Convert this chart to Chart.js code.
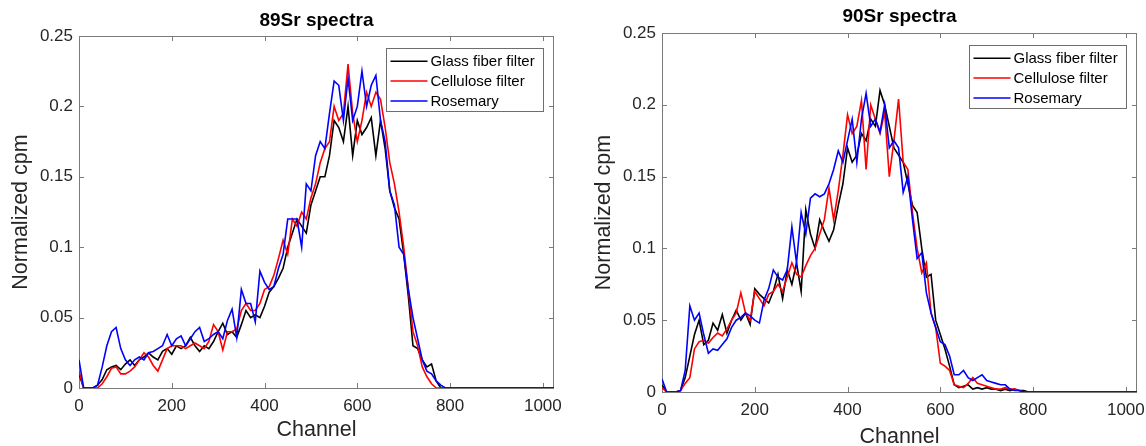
<!DOCTYPE html>
<html>
<head>
<meta charset="utf-8">
<script src="https://cdn.jsdelivr.net/npm/chart.js@4/dist/chart.umd.min.js"></script>
<style>
  html, body { margin: 0; padding: 0; background: #fff; }
  #wrap { position: relative; width: 1146px; height: 446px; overflow: hidden; }
  canvas { position: absolute; top: 0; }
</style>
</head>
<body>
<div id="wrap">
  <canvas id="sr89" width="573" height="446" style="left:0"></canvas>
  <canvas id="sr90" width="573" height="446" style="left:573px"></canvas>
</div>
<script>
// channel grid (every 10 channels up to 800, then the end of the 1024-channel range)
const CHANNELS = [
  0, 10, 20, 30, 40, 50, 60, 70, 80, 90,
  100, 110, 120, 130, 140, 150, 160, 170, 180, 190,
  200, 210, 220, 230, 240, 250, 260, 270, 280, 290,
  300, 310, 320, 330, 340, 350, 360, 370, 380, 390,
  400, 410, 420, 430, 440, 450, 460, 470, 480, 490,
  500, 510, 520, 530, 540, 550, 560, 570, 580, 590,
  600, 610, 620, 630, 640, 650, 660, 670, 680, 690,
  700, 710, 720, 730, 740, 750, 760, 770, 780, 790,
  800, 1024
];

const SERIES_NAMES = ['Glass fiber filter', 'Cellulose filter', 'Rosemary'];

// 89Sr spectra
const SR89_GLASS = [
  0.010, 0, 0, 0, 0.002, 0.006, 0.013, 0.015, 0.016, 0.013,
  0.017, 0.020, 0.016, 0.020, 0.022, 0.025, 0.022, 0.020, 0.026, 0.028,
  0.024, 0.030, 0.028, 0.030, 0.036, 0.030, 0.026, 0.030, 0.028, 0.033,
  0.040, 0.046, 0.038, 0.040, 0.036, 0.045, 0.055, 0.050, 0.052, 0.050,
  0.058, 0.068, 0.072, 0.078, 0.085, 0.100, 0.110, 0.120, 0.115, 0.110,
  0.130, 0.140, 0.150, 0.150, 0.165, 0.190, 0.185, 0.175, 0.200, 0.165,
  0.190, 0.180, 0.185, 0.192, 0.165, 0.190, 0.170, 0.140, 0.128, 0.120,
  0.095, 0.065, 0.030, 0.028, 0.020, 0.015, 0.017, 0.005, 0, 0,
  0, 0
];
const SR89_CELL = [
  0.012, 0, 0, 0, 0, 0.003, 0.008, 0.014, 0.015, 0.010,
  0.010, 0.012, 0.015, 0.020, 0.025, 0.022, 0.016, 0.012, 0.020, 0.028,
  0.030, 0.030, 0.030, 0.028, 0.030, 0.032, 0.030, 0.028, 0.033, 0.045,
  0.040, 0.027, 0.040, 0.040, 0.042, 0.055, 0.060, 0.055, 0.055, 0.060,
  0.070, 0.072, 0.080, 0.092, 0.105, 0.095, 0.120, 0.115, 0.125, 0.120,
  0.135, 0.145, 0.160, 0.170, 0.175, 0.200, 0.190, 0.195, 0.230, 0.195,
  0.175, 0.190, 0.210, 0.200, 0.210, 0.205, 0.185, 0.160, 0.145, 0.125,
  0.100, 0.070, 0.040, 0.030, 0.015, 0.008, 0.003, 0, 0, 0,
  0, 0
];
const SR89_ROSE = [
  0.020, 0, 0, 0, 0.002, 0.015, 0.030, 0.040, 0.043, 0.028,
  0.020, 0.016, 0.020, 0.022, 0.020, 0.025, 0.026, 0.028, 0.030, 0.038,
  0.030, 0.035, 0.037, 0.030, 0.035, 0.040, 0.043, 0.033, 0.035, 0.038,
  0.040, 0.035, 0.048, 0.056, 0.036, 0.070, 0.060, 0.060, 0.047, 0.083,
  0.075, 0.070, 0.072, 0.085, 0.095, 0.120, 0.120, 0.120, 0.100, 0.145,
  0.140, 0.165, 0.175, 0.170, 0.195, 0.218, 0.215, 0.190, 0.220, 0.190,
  0.200, 0.225, 0.200, 0.215, 0.222, 0.190, 0.175, 0.140, 0.130, 0.100,
  0.095, 0.070, 0.050, 0.035, 0.020, 0.012, 0.010, 0.005, 0.002, 0,
  0, 0
];

// 90Sr spectra
const SR90_GLASS = [
  0.005, 0, 0, 0, 0.001, 0.010, 0.025, 0.040, 0.050, 0.033,
  0.036, 0.048, 0.043, 0.054, 0.041, 0.050, 0.057, 0.050, 0.055, 0.047,
  0.072, 0.068, 0.065, 0.062, 0.070, 0.082, 0.065, 0.085, 0.075, 0.090,
  0.070, 0.127, 0.110, 0.100, 0.120, 0.112, 0.105, 0.113, 0.130, 0.145,
  0.170, 0.160, 0.165, 0.180, 0.175, 0.190, 0.185, 0.210, 0.200, 0.185,
  0.170, 0.165, 0.160, 0.145, 0.130, 0.125, 0.100, 0.080, 0.082, 0.050,
  0.040, 0.030, 0.018, 0.005, 0.003, 0.004, 0.005, 0.002, 0.003, 0.002,
  0.003, 0.002, 0.002, 0.001, 0.002, 0.001, 0.002, 0.001, 0.001, 0,
  0, 0
];
const SR90_CELL = [
  0.003, 0, 0, 0, 0.001, 0.006, 0.010, 0.030, 0.035, 0.036,
  0.034, 0.038, 0.041, 0.039, 0.044, 0.050, 0.055, 0.069, 0.055, 0.050,
  0.070, 0.065, 0.060, 0.068, 0.070, 0.075, 0.070, 0.080, 0.090, 0.082,
  0.080, 0.088, 0.095, 0.100, 0.110, 0.120, 0.142, 0.120, 0.140, 0.165,
  0.193, 0.180, 0.185, 0.203, 0.155, 0.200, 0.190, 0.180, 0.195, 0.150,
  0.175, 0.204, 0.160, 0.155, 0.125, 0.100, 0.083, 0.090, 0.055, 0.045,
  0.020, 0.018, 0.015, 0.005, 0.004, 0.003, 0.006, 0.010, 0.006, 0.005,
  0.004, 0.003, 0.002, 0.002, 0.003, 0.002, 0.002, 0.001, 0, 0,
  0, 0
];
const SR90_ROSE = [
  0.009, 0, 0, 0, 0.001, 0.015, 0.060, 0.050, 0.055, 0.040,
  0.027, 0.030, 0.029, 0.033, 0.037, 0.045, 0.050, 0.052, 0.055, 0.053,
  0.050, 0.048, 0.064, 0.072, 0.085, 0.080, 0.078, 0.085, 0.115, 0.090,
  0.125, 0.110, 0.135, 0.138, 0.136, 0.138, 0.145, 0.155, 0.168, 0.160,
  0.175, 0.190, 0.160, 0.190, 0.208, 0.185, 0.190, 0.181, 0.200, 0.170,
  0.175, 0.170, 0.139, 0.150, 0.120, 0.093, 0.097, 0.069, 0.055, 0.045,
  0.035, 0.033, 0.025, 0.012, 0.012, 0.015, 0.010, 0.008, 0.010, 0.012,
  0.008, 0.007, 0.006, 0.005, 0.005, 0.002, 0.001, 0.001, 0, 0,
  0, 0
];

const X_TICKS = [0, 200, 400, 600, 800, 1000];
const Y_TICKS = [0, 0.05, 0.1, 0.15, 0.2, 0.25];

const LINE_COLORS = ['#000000', '#ff0000', '#0000ff'];
const FONT = "'Liberation Sans', Arial, Helvetica, sans-serif";
const TEXT_COLOR = '#262626';
const AXIS_COLOR = '#7a7a7a';
const TICK_LEN = 5;

// MATLAB-style box with inward ticks on all four sides
const boxPlugin = {
  id: 'matlabBox',
  beforeDatasetsDraw(chart) {
    const {ctx, chartArea: a, scales: {x, y}} = chart;
    ctx.save();
    ctx.strokeStyle = AXIS_COLOR;
    ctx.lineWidth = 1;
    ctx.beginPath();
    X_TICKS.forEach(v => {
      const px = Math.round(x.getPixelForValue(v)) + 0.5;
      ctx.moveTo(px, a.bottom); ctx.lineTo(px, a.bottom - TICK_LEN);
      ctx.moveTo(px, a.top); ctx.lineTo(px, a.top + TICK_LEN);
    });
    Y_TICKS.forEach(v => {
      const py = Math.round(y.getPixelForValue(v)) + 0.5;
      ctx.moveTo(a.left, py); ctx.lineTo(a.left + TICK_LEN, py);
      ctx.moveTo(a.right, py); ctx.lineTo(a.right - TICK_LEN, py);
    });
    ctx.stroke();
    ctx.strokeRect(a.left + 0.5, a.top + 0.5, a.right - a.left - 1, a.bottom - a.top);
    ctx.restore();
  }
};

// legend box in the upper right corner of the axes
const legendPlugin = {
  id: 'insideLegend',
  afterDatasetsDraw(chart, args, opts) {
    const {ctx, chartArea: a} = chart;
    const w = 157, h = 63;
    const x0 = Math.round(a.right - opts.right - w) + 0.5;
    const y0 = Math.round(a.top + opts.top) + 0.5;
    ctx.save();
    ctx.fillStyle = '#fff';
    ctx.fillRect(x0, y0, w, h);
    ctx.strokeStyle = '#6e6e6e';
    ctx.lineWidth = 1;
    ctx.strokeRect(x0, y0, w, h);
    ctx.font = '15px ' + FONT;
    ctx.textBaseline = 'middle';
    ctx.textAlign = 'left';
    chart.data.datasets.forEach((ds, i) => {
      const yy = y0 + 12.8 + i * 19.8;
      ctx.strokeStyle = ds.borderColor;
      ctx.lineWidth = 1.5;
      ctx.beginPath();
      ctx.moveTo(x0 + 4, yy);
      ctx.lineTo(x0 + 41, yy);
      ctx.stroke();
      ctx.fillStyle = '#000';
      ctx.fillText(ds.label, x0 + 44, yy + 0.5);
    });
    ctx.restore();
  }
};

function toPoints(values) {
  return CHANNELS.map((c, i) => ({x: c, y: values[i]}));
}

function makeChart(id, title, series, geo) {
  const ctx = document.getElementById(id).getContext('2d');
  return new Chart(ctx, {
    type: 'line',
    data: {
      datasets: series.map((vals, i) => ({
        label: SERIES_NAMES[i],
        data: toPoints(vals),
        borderColor: LINE_COLORS[i],
        borderWidth: 1.6,
        pointRadius: 0,
        tension: 0,
        fill: false,
        order: 3 - i
      }))
    },
    options: {
      responsive: false,
      animation: false,
      devicePixelRatio: 1,
      layout: {padding: {left: 0, right: geo.padRight, top: 0, bottom: 0}},
      scales: {
        x: {
          type: 'linear',
          min: 0,
          max: 1024,
          afterBuildTicks: s => { s.ticks = X_TICKS.map(v => ({value: v})); },
          afterFit: s => {
            s.height = geo.xHeight;
            s.paddingLeft = 0; s.paddingRight = 0;
          },
          grid: {display: false, drawTicks: false},
          border: {display: false},
          ticks: {
            padding: 8.5,
            color: TEXT_COLOR,
            font: {family: FONT, size: 17},
            maxRotation: 0,
            callback: v => String(v)
          },
          title: {
            display: true,
            text: 'Channel',
            color: TEXT_COLOR,
            font: {family: FONT, size: 21.5, lineHeight: 1.2},
            padding: {top: 0, bottom: geo.xTitlePad}
          }
        },
        y: {
          type: 'linear',
          min: 0,
          max: 0.25,
          afterBuildTicks: s => { s.ticks = Y_TICKS.map(v => ({value: v})); },
          afterFit: s => {
            s.width = geo.yWidth;
            s.paddingTop = 0; s.paddingBottom = 0;
          },
          grid: {display: false, drawTicks: false},
          border: {display: false},
          ticks: {
            padding: 6,
            color: TEXT_COLOR,
            font: {family: FONT, size: 17},
            callback: v => String(v)
          },
          title: {
            display: true,
            text: 'Normalized cpm',
            color: TEXT_COLOR,
            font: {family: FONT, size: 21.5, lineHeight: 1.2},
            padding: {top: geo.yTitlePad, bottom: 0}
          }
        }
      },
      plugins: {
        legend: {display: false},
        tooltip: {enabled: false},
        title: {
          display: true,
          text: title,
          fullSize: false,
          color: '#000',
          font: {family: FONT, size: 19, weight: 'bold', lineHeight: 1.2},
          padding: {top: geo.titleTop, bottom: geo.titleBottom}
        },
        insideLegend: {right: 11.5, top: 12}
      }
    },
    plugins: [boxPlugin, legendPlugin]
  });
}

makeChart('sr89', '89Sr spectra', [SR89_GLASS, SR89_CELL, SR89_ROSE], {
  padRight: 19, xHeight: 58, yWidth: 79,
  xTitlePad: 3.1, yTitlePad: 8.6,
  titleTop: 9.1, titleBottom: 4.1
});

makeChart('sr90', '90Sr spectra', [SR90_GLASS, SR90_CELL, SR90_ROSE], {
  padRight: 9, xHeight: 54, yWidth: 89,
  xTitlePad: -4.4, yTitlePad: 18.1,
  titleTop: 5.1, titleBottom: 5.1
});
</script>
</body>
</html>
